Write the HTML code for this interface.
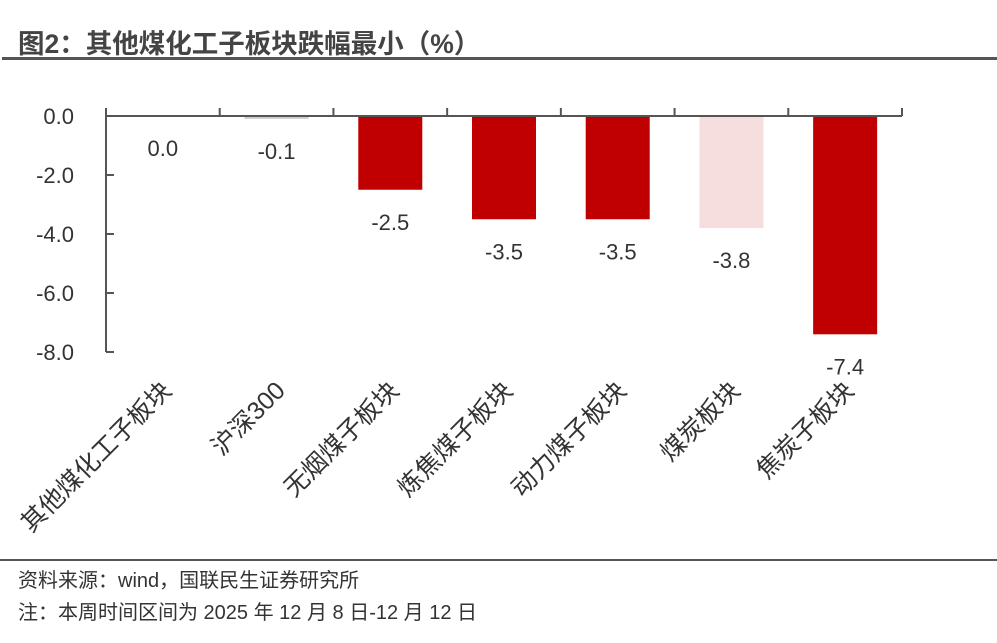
<!DOCTYPE html>
<html><head><meta charset="utf-8"><style>
body{margin:0;background:#fff;width:997px;height:638px;overflow:hidden;font-family:"Liberation Sans","Noto Sans CJK SC",sans-serif;}
</style></head><body>
<svg width="997" height="638" xmlns="http://www.w3.org/2000/svg" style="font-family:'Liberation Sans','Noto Sans CJK SC',sans-serif">
<text x="18" y="53" font-size="26.5" font-weight="bold" fill="#444">图2：其他煤化工子板块跌幅最小（%）</text>
<rect x="2" y="57" width="995" height="3" fill="#555"/>
<g id="plot"></g>
<rect x="0" y="559" width="997" height="2" fill="#555"/>
<text x="18" y="587" font-size="20" fill="#333">资料来源：wind，国联民生证券研究所</text>
<text x="18" y="619" font-size="20" fill="#333">注：本周时间区间为 2025 年 12 月 8 日-12 月 12 日</text>
</svg>
<script>
const categories=["其他煤化工子板块","沪深300","无烟煤子板块","炼焦煤子板块","动力煤子板块","煤炭板块","焦炭子板块"];
const values=[0.0,-0.1,-2.5,-3.5,-3.5,-3.8,-7.4];
const barColors=["#c00000","#cfcfcf","#c00000","#c00000","#c00000","#f6dede","#c00000"];
const yTicks=[0,-2,-4,-6,-8];
const NS="http://www.w3.org/2000/svg";
const g=document.getElementById('plot');
const x0=106,x1=902,y0=116,yScale=29.5;
const band=(x1-x0)/categories.length;
const yPos=v=>y0-v*yScale;
const xCenter=i=>x0+band*(i+0.5);
function el(t,a){const e=document.createElementNS(NS,t);for(const k in a)e.setAttribute(k,a[k]);g.appendChild(e);return e;}
values.forEach((v,i)=>{
  const h=Math.abs(yPos(v)-y0);
  const r=el('rect',{x:xCenter(i)-32,y:y0,width:64,height:Math.max(h,v!==0?2:0),fill:barColors[i]});
  
  
  const t=el('text',{x:xCenter(i),y:yPos(v)+40,'font-size':22,fill:'#333','text-anchor':'middle'});
  t.textContent=v.toFixed(1);
  
  
  const c=el('text',{'font-size':25,fill:'#333','text-anchor':'end',transform:`translate(${xCenter(i)+10},${392}) rotate(-45)`});
  c.textContent=categories[i];
  
  
});
const ax=el('line',{x1:x0,y1:y0,x2:x1,y2:y0,stroke:'#555','stroke-width':2});


const ay=el('line',{x1:x0,y1:y0,x2:x0,y2:yPos(-8),stroke:'#555','stroke-width':2});


for(let i=0;i<=categories.length;i++){
  const tk=el('line',{x1:x0+band*i,y1:y0,x2:x0+band*i,y2:y0-8,stroke:'#555','stroke-width':2});
  
  
}
yTicks.forEach(v=>{
  const tk=el('line',{x1:x0,y1:yPos(v),x2:x0+8,y2:yPos(v),stroke:'#555','stroke-width':2});
  
  
  const t=el('text',{x:74,y:yPos(v)+8,'font-size':22,fill:'#333','text-anchor':'end'});
  t.textContent=v.toFixed(1);
  
  
});
</script>
</body></html>
